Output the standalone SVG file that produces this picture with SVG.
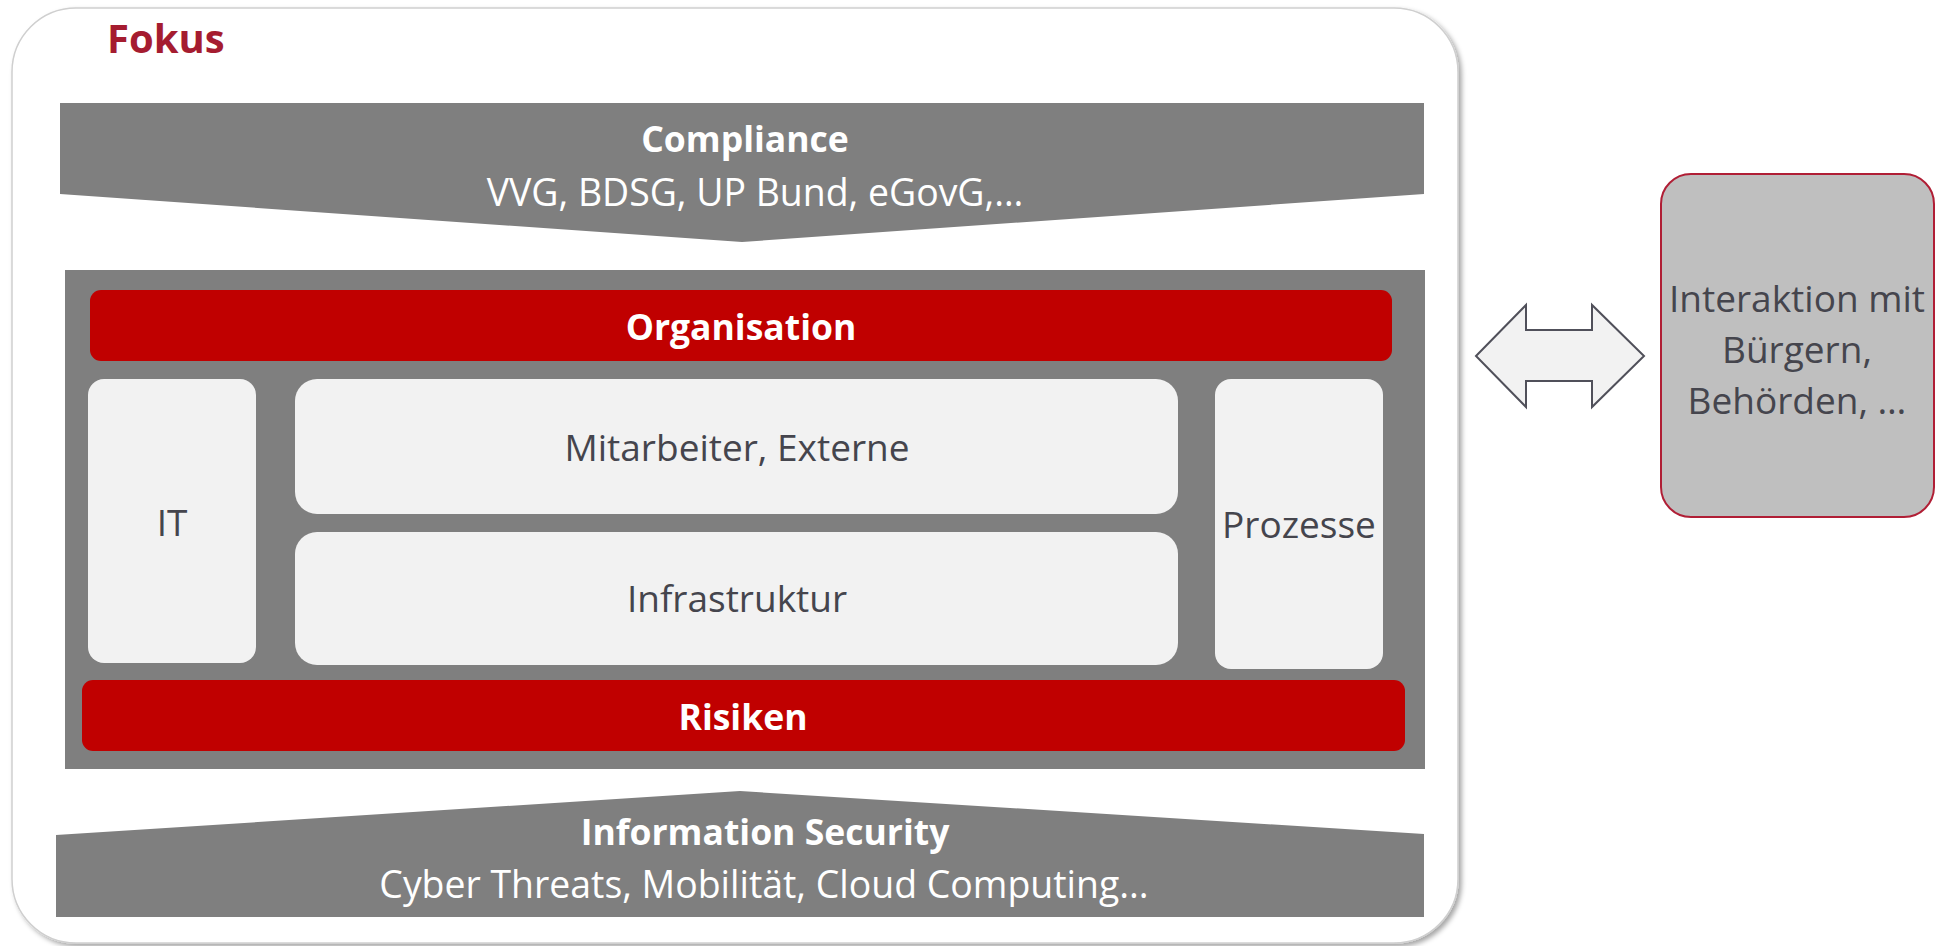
<svg xmlns="http://www.w3.org/2000/svg" width="1950" height="946" viewBox="0 0 1950 946">
  <defs>
    <filter id="cardShadow" x="-5%" y="-5%" width="110%" height="110%">
      <feDropShadow dx="3" dy="3" stdDeviation="2.5" flood-color="#000" flood-opacity="0.35"/>
    </filter>
    <style>
      .txt { font-family: "Open Sans", "Noto Sans", "Liberation Sans", sans-serif; }
      .hdr { font-weight: 700; font-size: 35.5px; fill: #ffffff; text-anchor: middle; }
      .sub { font-size: 37.4px; fill: #ffffff; text-anchor: middle; }
      .lbl { font-size: 37px; fill: #45454d; text-anchor: middle; }
      .banner { fill: #7f7f7f; }
      .bar { fill: #c00000; }
      .tile { fill: #f2f2f2; }
    </style>
  </defs>

  <!-- outer focus card -->
  <g id="fokus">
    <rect x="12" y="8" width="1446" height="935" rx="64" ry="64" fill="#ffffff" stroke="#cfcfcf" stroke-width="1.5" filter="url(#cardShadow)"/>
    <text class="txt" x="107" y="53" font-size="40" font-weight="700" fill="#a51c30">Fokus</text>
  </g>

  <!-- compliance banner, pointing down -->
  <g id="compliance">
    <polygon class="banner" points="60,103 1424,103 1424,194 742,242 60,194"/>
    <text class="txt hdr" x="745" y="152">Compliance</text>
    <text class="txt sub" x="755" y="206">VVG, BDSG, UP Bund, eGovG,…</text>
  </g>

  <!-- central panel -->
  <g id="panel">
    <rect x="65" y="270" width="1360" height="499" fill="#7f7f7f"/>
  </g>

  <g id="organisation">
    <rect class="bar" x="90" y="290" width="1302" height="71" rx="11"/>
    <text class="txt hdr" x="741" y="340">Organisation</text>
  </g>

  <g id="it">
    <rect class="tile" x="88" y="379" width="168" height="284" rx="16"/>
    <text class="txt lbl" x="172" y="536">IT</text>
  </g>

  <g id="mitarbeiter">
    <rect class="tile" x="295" y="379" width="883" height="135" rx="22"/>
    <text class="txt lbl" x="737" y="461">Mitarbeiter, Externe</text>
  </g>

  <g id="infrastruktur">
    <rect class="tile" x="295" y="532" width="883" height="133" rx="22"/>
    <text class="txt lbl" x="737" y="612">Infrastruktur</text>
  </g>

  <g id="prozesse">
    <rect class="tile" x="1215" y="379" width="168" height="290" rx="16"/>
    <text class="txt lbl" x="1299" y="538">Prozesse</text>
  </g>

  <g id="risiken">
    <rect class="bar" x="82" y="680" width="1323" height="71" rx="11"/>
    <text class="txt hdr" x="743" y="730">Risiken</text>
  </g>

  <!-- information security banner, pointing up -->
  <g id="information-security">
    <polygon class="banner" points="56,835 740,791 1424,834 1424,917 56,917"/>
    <text class="txt hdr" x="765" y="845">Information Security</text>
    <text class="txt sub" x="764" y="898">Cyber Threats, Mobilität, Cloud Computing...</text>
  </g>

  <!-- external interaction box -->
  <g id="interaktion">
    <rect x="1661" y="174" width="273" height="343" rx="30" fill="#bfbfbf" stroke="#b01e35" stroke-width="2"/>
    <text class="txt lbl" font-size="36.5" x="1797" y="312">Interaktion mit</text>
    <text class="txt lbl" font-size="36.5" x="1797" y="363">Bürgern,</text>
    <text class="txt lbl" font-size="36.5" x="1797" y="414">Behörden, …</text>
  </g>

  <!-- connectors -->
  <g id="connectors">
    <polygon points="1476,356 1526,305 1526,330 1592,330 1592,305 1644,356 1592,407 1592,381 1526,381 1526,407" fill="#f2f2f2" stroke="#50505a" stroke-width="2" stroke-linejoin="miter"/>
  </g>
</svg>
